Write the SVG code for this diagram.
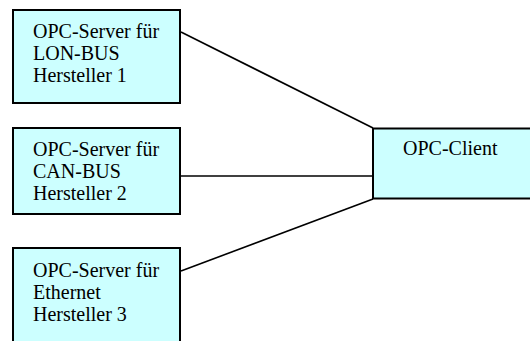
<svg xmlns="http://www.w3.org/2000/svg" width="530" height="341" viewBox="0 0 530 341">
  <style>
    .box { fill: #CCFFFF; stroke: #000; stroke-width: 2; }
    .lbl { font-family: "Liberation Serif", "Times New Roman", serif; font-size: 20px; fill: #000; }
    .conn { stroke: #000; stroke-width: 1.6; fill: none; }
  </style>
  <rect width="530" height="341" fill="#fff"/>

  <!-- connectors between the servers and the client -->
  <g id="connectors">
    <line class="conn" x1="181" y1="32" x2="373" y2="128"/>
    <line class="conn" x1="181" y1="176" x2="373" y2="176"/>
    <line class="conn" x1="181" y1="271" x2="373" y2="199"/>
  </g>

  <g id="server-lon">
    <rect class="box" x="13" y="10" width="167" height="93"/>
    <text class="lbl" x="33" y="38">OPC-Server für</text>
    <text class="lbl" x="33" y="60">LON-BUS</text>
    <text class="lbl" x="33" y="82">Hersteller 1</text>
  </g>

  <g id="server-can">
    <rect class="box" x="13" y="128" width="167" height="86"/>
    <text class="lbl" x="33" y="156">OPC-Server für</text>
    <text class="lbl" x="33" y="178">CAN-BUS</text>
    <text class="lbl" x="33" y="200">Hersteller 2</text>
  </g>

  <g id="server-ethernet">
    <rect class="box" x="13" y="248" width="167" height="110"/>
    <text class="lbl" x="33" y="277">OPC-Server für</text>
    <text class="lbl" x="33" y="299">Ethernet</text>
    <text class="lbl" x="33" y="321">Hersteller 3</text>
  </g>

  <g id="client">
    <rect class="box" x="373" y="128.5" width="170" height="70"/>
    <text class="lbl" x="403" y="155">OPC-Client</text>
  </g>
</svg>
